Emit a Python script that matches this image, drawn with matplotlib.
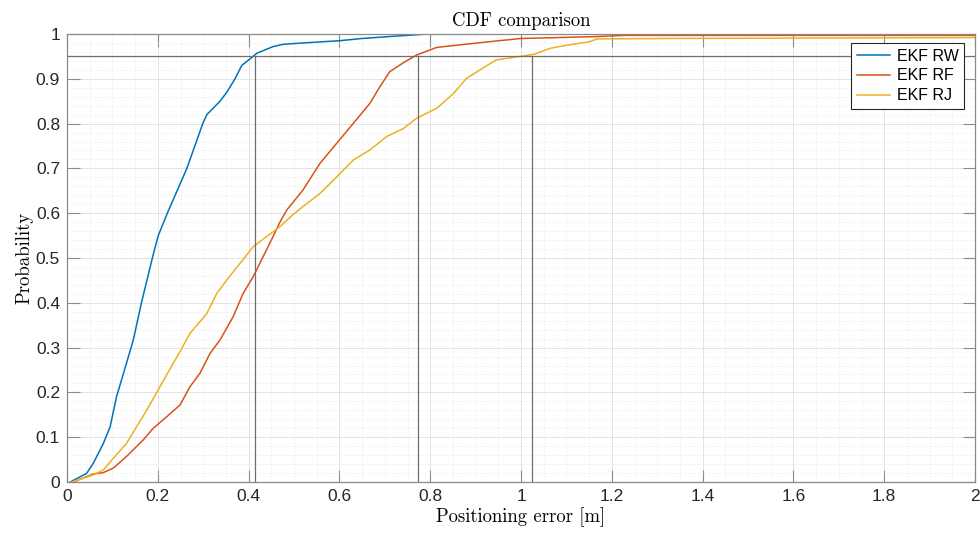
import matplotlib
matplotlib.use("Agg")
import matplotlib.pyplot as plt
import numpy as np
from matplotlib.ticker import MultipleLocator, FuncFormatter

# CDF curves (error [m], probability)
rw_x = [0.007, 0.043, 0.058, 0.080, 0.095, 0.109, 0.131, 0.146, 0.164, 0.188, 0.201, 0.221, 0.264,
        0.299, 0.308, 0.337, 0.352, 0.370, 0.385, 0.41, 0.418, 0.454, 0.476, 0.52, 0.60, 0.65, 0.72, 0.795]
rw_p = [0.0, 0.019, 0.042, 0.086, 0.123, 0.19, 0.265, 0.317, 0.4, 0.5, 0.55, 0.6, 0.7,
        0.8, 0.82, 0.85, 0.87, 0.9, 0.93, 0.95, 0.957, 0.972, 0.977, 0.98, 0.985, 0.99, 0.995, 1.0]

rf_x = [0.014, 0.058, 0.080, 0.102, 0.131, 0.168, 0.190, 0.220, 0.249, 0.271, 0.293, 0.315, 0.337,
        0.366, 0.388, 0.410, 0.432, 0.454, 0.469, 0.484, 0.520, 0.557, 0.594, 0.631, 0.667, 0.689,
        0.711, 0.741, 0.770, 0.814, 0.858, 0.932, 1.0, 1.159, 1.23, 2.0]
rf_p = [0.0, 0.018, 0.021, 0.031, 0.057, 0.094, 0.120, 0.146, 0.172, 0.213, 0.243, 0.287, 0.317,
        0.369, 0.421, 0.458, 0.503, 0.548, 0.58, 0.607, 0.652, 0.711, 0.756, 0.801, 0.845, 0.882,
        0.916, 0.936, 0.953, 0.970, 0.975, 0.983, 0.990, 0.994, 0.997, 0.997]

rj_x = [0.01, 0.058, 0.080, 0.102, 0.131, 0.153, 0.176, 0.205, 0.234, 0.249, 0.271, 0.308, 0.330,
        0.352, 0.381, 0.410, 0.440, 0.469, 0.498, 0.520, 0.557, 0.594, 0.631, 0.667, 0.704, 0.741,
        0.770, 0.814, 0.851, 0.880, 0.910, 0.945, 0.991, 1.03, 1.064, 1.101, 1.152, 1.167, 1.32, 2.0]
rj_p = [0.0, 0.016, 0.027, 0.053, 0.086, 0.123, 0.161, 0.213, 0.265, 0.291, 0.332, 0.376, 0.421,
        0.451, 0.488, 0.525, 0.548, 0.570, 0.597, 0.615, 0.644, 0.681, 0.719, 0.741, 0.771, 0.789,
        0.812, 0.834, 0.867, 0.901, 0.920, 0.942, 0.949, 0.955, 0.968, 0.975, 0.983, 0.989, 0.990, 0.992]

labels = ['EKF RW', 'EKF RF', 'EKF RJ']
level = 0.95
x95 = [0.413, 0.773, 1.025]

colors = ['#0072BD', '#D95319', '#EDB120']
serif = 'cmr10'
axcol = '#8a8a8a'
txtcol = '#262626'

fig = plt.figure(figsize=(9.8, 5.36), dpi=100)
ax = fig.add_axes([67 / 980, 54 / 536, 908 / 980, 448 / 536])

for xs, ps, c, lab in zip([rw_x, rf_x, rj_x], [rw_p, rf_p, rj_p], colors, labels):
    ax.plot(xs, ps, color=c, lw=1.1, label=lab)

# 95% markers
ax.axhline(level, color='#6e6e6e', lw=0.9)
for xv in x95:
    ax.plot([xv, xv], [0, level], color='#6e6e6e', lw=0.9)

ax.set_xlim(0, 2)
ax.set_ylim(0, 1)
ax.xaxis.set_major_locator(MultipleLocator(0.2))
ax.xaxis.set_minor_locator(MultipleLocator(0.05))
ax.yaxis.set_major_locator(MultipleLocator(0.1))
ax.yaxis.set_minor_locator(MultipleLocator(0.02))
fmt = FuncFormatter(lambda v, pos: '%g' % round(v, 2))
ax.xaxis.set_major_formatter(fmt)
ax.yaxis.set_major_formatter(fmt)

ax.grid(which='major', color='#dedede', lw=0.6)
ax.grid(which='minor', color='#e6e6e6', lw=0.6, ls=':')
ax.set_axisbelow(True)

ax.tick_params(which='major', direction='in', length=9, width=0.8, color=axcol,
               top=True, right=True, labelsize=12.5, labelcolor=txtcol, pad=5)
ax.tick_params(which='minor', length=0, top=True, right=True)
for lbl in ax.get_xticklabels() + ax.get_yticklabels():
    lbl.set_family('Liberation Sans')
for s in ax.spines.values():
    s.set_color(axcol)
    s.set_linewidth(0.9)

ax.set_title('CDF comparison', family=serif, fontsize=13.5, color='black', pad=6)
ax.set_xlabel('Positioning error [m]', family=serif, fontsize=13.5, labelpad=2)
ax.set_ylabel('Probability', family=serif, fontsize=13.5, labelpad=2)

leg = ax.legend(loc='upper right', bbox_to_anchor=(0.988, 0.98), prop={'family': 'Liberation Sans', 'size': 11.5},
                frameon=True, fancybox=False, framealpha=1, edgecolor='#262626',
                handlelength=2.1, handletextpad=0.4, borderpad=0.35, labelspacing=0.3, borderaxespad=0)
leg.get_frame().set_linewidth(0.8)

fig.savefig('out.png', dpi=100)
